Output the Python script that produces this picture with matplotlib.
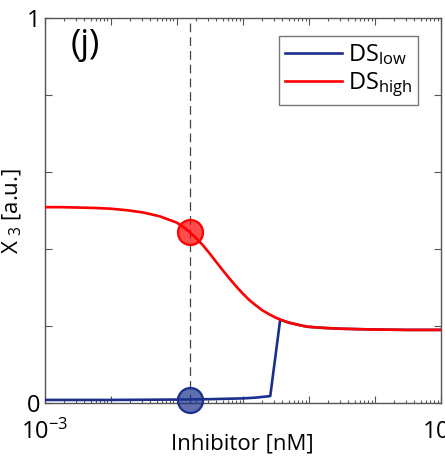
import matplotlib
matplotlib.use("Agg")
import matplotlib.pyplot as plt
import numpy as np
from matplotlib.ticker import LogLocator, NullFormatter

plt.rcParams['font.family'] = ['Open Sans', 'DejaVu Sans']
plt.rcParams['mathtext.default'] = 'regular'

# Inhibitor concentration (nM) as log10 values, and steady-state X3 levels
log_inhib_high = [-3.0, -2.75, -2.5, -2.25, -2.0, -1.75, -1.5, -1.25, -1.0, -0.9,
                  -0.8, -0.7, -0.6, -0.5, -0.4, -0.3, -0.2, -0.1, 0.0, 0.1,
                  0.2, 0.3, 0.4, 0.5, 0.6, 0.7, 0.8, 0.9, 1.0, 1.25,
                  1.5, 1.75, 2.0, 2.5, 3.0]
x3_high = [0.509, 0.509, 0.508, 0.507, 0.505, 0.501, 0.495, 0.485, 0.469, 0.458,
           0.444, 0.428, 0.410, 0.389, 0.367, 0.345, 0.324, 0.304, 0.285, 0.268,
           0.254, 0.241, 0.231, 0.222, 0.215, 0.209, 0.205, 0.201, 0.198, 0.195,
           0.193, 0.192, 0.191, 0.190, 0.190]

log_inhib_low = [-3.0, -2.0, -1.0, -0.5, 0.0, 0.2, 0.42, 0.57, 0.6, 0.7,
                 0.8, 0.9, 1.0, 1.25, 1.5, 1.75, 2.0, 2.5, 3.0]
x3_low = [0.008, 0.008, 0.009, 0.010, 0.012, 0.014, 0.018, 0.216, 0.215, 0.209,
          0.205, 0.201, 0.198, 0.195, 0.193, 0.192, 0.191, 0.190, 0.190]

# Marked operating point
inhib_point = 0.158
x3_point_low = 0.008
x3_point_high = 0.444

blue = '#1b2f8f'
red = '#ff0000'

fig = plt.figure(figsize=(4.45, 4.67), dpi=100)
ax = fig.add_axes([0.1, 0.137, 0.89, 0.824])

ax.plot(10 ** np.array(log_inhib_low), x3_low, color=blue, lw=1.9,
        label='DS$_{low}$', zorder=3)
ax.plot(10 ** np.array(log_inhib_high), x3_high, color=red, lw=1.9,
        label='DS$_{high}$', zorder=4)

ax.axvline(inhib_point, color='#444444', lw=0.9, ls=(0, (7, 4)), zorder=2)

ax.plot([inhib_point], [x3_point_high], 'o', ms=18, mfc=(1, 0, 0, 0.7),
        mec=red, mew=1.6, zorder=5)
ax.plot([inhib_point], [x3_point_low], 'o', ms=18, mfc=(0.11, 0.2, 0.55, 0.7),
        mec=blue, mew=1.6, zorder=5, clip_on=False)

ax.set_xscale('log')
ax.set_xlim(1e-3, 1e3)
ax.set_ylim(0, 1)

ax.xaxis.set_minor_locator(LogLocator(base=10, subs=np.arange(2, 10), numticks=20))
ax.xaxis.set_minor_formatter(NullFormatter())
ax.set_xticks([1e-3, 1e-2, 1e-1, 1, 1e1, 1e2, 1e3])
ax.set_xticklabels(['$10^{-3}$', '', '', '', '', '', '$10^{3}$'])

ax.set_yticks([0, 0.2, 0.4, 0.6, 0.8, 1.0])
ax.set_yticklabels(['0', '', '', '', '', '1'])

ax.tick_params(which='both', direction='in', top=True, right=True,
               color='#555555', width=0.8)
ax.tick_params(which='major', length=5)
ax.tick_params(which='minor', length=2.5)
ax.tick_params(axis='x', labelsize=17, pad=12)
ax.tick_params(axis='y', labelsize=17, pad=3)
for s in ax.spines.values():
    s.set_color('#555555')
    s.set_linewidth(1.0)

ax.set_xlabel('Inhibitor [nM]', fontsize=16)
ax.xaxis.set_label_coords(0.5, -0.078)
ax.set_ylabel('X$_{\\ 3}$ [a.u.]', fontsize=16, labelpad=2)

ax.text(0.065, 0.975, '(j)', transform=ax.transAxes, fontsize=25,
        va='top', ha='left', fontweight='medium')

leg = ax.legend(loc='upper right', bbox_to_anchor=(0.943, 0.953), fontsize=17,
                frameon=True, fancybox=False, handlelength=2.4,
                borderpad=0.25, labelspacing=0.15, handletextpad=0.25,
                borderaxespad=0)
leg.get_frame().set_edgecolor('#555555')
leg.get_frame().set_linewidth(1.0)

fig.savefig('out.png', dpi=100)
